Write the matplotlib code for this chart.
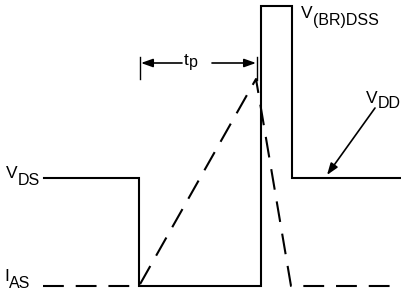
import matplotlib
matplotlib.use("Agg")
import matplotlib.pyplot as plt

# Waveform breakpoints (time axis in px-like units, level axis downward)
vds_t = [44, 139, 139, 261, 261, 292, 292, 401]
vds_v = [178, 178, 286, 286, 6, 6, 178, 178]
ias_t = [43, 139, 256, 291, 401]
ias_i = [286, 286, 79, 286, 286]
tp_start, tp_end = 140, 257

plt.rcParams['font.family'] = ['Liberation Sans', 'DejaVu Sans']
fig = plt.figure(figsize=(4.01, 2.94), dpi=100)
ax = fig.add_axes([0, 0, 1, 1])
ax.set_xlim(0, 401)
ax.set_ylim(294, 0)
ax.axis('off')

ax.plot(vds_t, vds_v, color='black', lw=1.5, solid_joinstyle='miter')
l, = ax.plot(ias_t, ias_i, color='black', lw=1.5)
l.set_dashes((10, 5.7))

# t_p dimension
ax.plot([tp_start, tp_start], [57, 79], color='black', lw=1.0)
ax.plot([tp_end, tp_end], [57, 80], color='black', lw=1.0)
ap = dict(arrowstyle='-|>,head_length=0.7,head_width=0.25', color='black', lw=1.2, shrinkA=0, shrinkB=0)
ax.annotate('', xy=(tp_start + 1, 63), xytext=(182, 63), arrowprops=ap)
ax.annotate('', xy=(tp_end - 1, 63), xytext=(212, 63), arrowprops=ap)

# V_DD arrow
ax.annotate('', xy=(327, 175), xytext=(375, 108), arrowprops=ap)

FS_MAIN, FS_SUB = 12.5, 11.5

def label(x, y, main, sub, dy=7):
    t = ax.text(x, y, main, fontsize=FS_MAIN, ha='left', va='baseline')
    fig.canvas.draw()
    bb = t.get_window_extent()
    inv = ax.transData.inverted()
    x1 = inv.transform((bb.x1, bb.y0))[0]
    ax.text(x1, y + dy, sub, fontsize=FS_SUB, ha='left', va='baseline')

label(6, 178, 'V', 'DS')
label(4, 281, 'I', 'AS')
label(301, 18, 'V', '(BR)DSS')
label(366, 103, 'V', 'DD', dy=5)
label(184, 65, 't', 'p', dy=2)

fig.savefig('out.png', dpi=100)
